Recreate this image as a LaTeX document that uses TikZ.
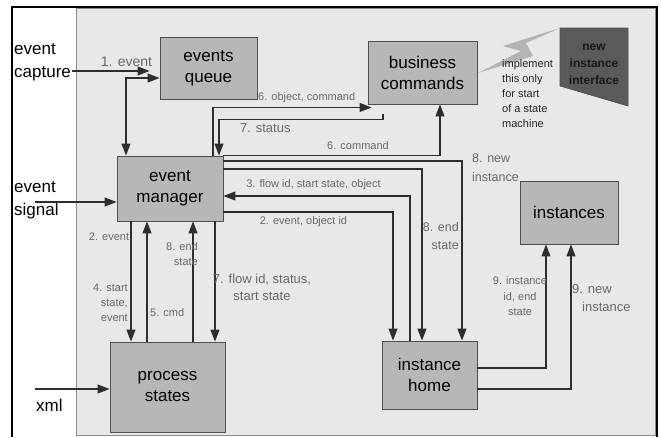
\documentclass[tikz,border=0pt]{standalone}
\usepackage{fontspec}
\setmainfont{Liberation Sans}
\usetikzlibrary{arrows.meta,calc}
\definecolor{panelfill}{HTML}{E8E8E8}
\definecolor{panelline}{HTML}{8A8A8A}
\definecolor{boxfill}{HTML}{B7B7B7}
\definecolor{boxline}{HTML}{505050}
\definecolor{linecol}{HTML}{2E2E2E}
\definecolor{lblcol}{HTML}{6A6A6A}
\definecolor{darkbox}{HTML}{5A5A5A}
\definecolor{boltfill}{HTML}{B4B4B4}

\begin{document}
\begin{tikzpicture}[x=1pt,y=-1pt,
  box/.style={draw=boxline, fill=boxfill, line width=0.9pt, inner sep=0pt,
              align=center, font=\fontsize{17}{21}\selectfont},
  conn/.style={draw=linecol, line width=1.1pt, -{Triangle[length=12pt,width=9pt]}},
  conn2/.style={draw=linecol, line width=1.1pt,
                {Triangle[length=12pt,width=9pt]}-{Triangle[length=12pt,width=9pt]}},
  lbl/.style={text=lblcol, inner sep=0pt, font=\fontsize{11}{15}\selectfont},
  side/.style={inner sep=0pt, align=left, font=\fontsize{17}{23.5}\selectfont}
]
\useasboundingbox (0,0) rectangle (661,437);
\fill[white] (0,0) rectangle (661,437);

% outer frame and shaded system area
\fill[panelfill] (76,8) rectangle (655,435);
\draw[panelline, line width=1pt] (76,8) rectangle (655,435);
\draw[black, line width=2pt] (12,437) -- (12,7) -- (657,7) -- (657,437);

% external inputs
\node[side, anchor=north west] (capt) at (14,43) {event\\capture};
\node[side, anchor=north west] (sig) at (14,181) {event\\signal};
\node[side, anchor=west] (xmlin) at (36,405) {xml};

% components
\node[box, minimum width=97pt, minimum height=62pt] (eq) at (208.5,68) {events\\queue};
\node[box, minimum width=109pt, minimum height=63pt] (bc) at (422.5,72.5) {business\\commands};
\node[box, minimum width=106pt, minimum height=65pt] (em) at (170,188.5) {event\\manager};
\node[box, minimum width=115pt, minimum height=90pt] (ps) at (167.5,387) {process\\states};
\node[box, minimum width=95pt, minimum height=68pt] (ih) at (429.5,375) {instance\\home};
\node[box, minimum width=98pt, minimum height=63pt] (inst) at (569,212.5) {instances};

% new instance interface and its callout
\fill[darkbox] (560,28) -- (628,28) -- (628,106) -- (560,86) -- cycle;
\draw[black!70, line width=0.6pt] (560,28) -- (628,28) -- (628,106) -- (560,86) -- cycle;
\node[inner sep=0pt, align=center, text=black!90,
      font=\bfseries\fontsize{12}{17}\selectfont] (nii) at (594,64) {new\\instance\\interface};
\fill[boltfill] (478,73) -- (521,51) -- (503,46) -- (560,28) -- (526,43) -- (533,56) -- cycle;
\node[inner sep=0pt, anchor=west, align=left, text=black!85,
      font=\fontsize{11}{15.2}\selectfont] (note) at (502,93.5)
      {implement\\this only\\for start\\of a state\\machine};

% inputs
\coordinate (capIn) at (72,71);
\coordinate (sigIn) at (35,202);
\coordinate (xmlIn) at (35,389);
\draw[conn, shorten >=10pt] (capIn) -- (eq.west |- capIn);
\node[lbl, font=\fontsize{14}{16}\selectfont] (l1) at (126.5,62) {1. event};
\draw[conn2] (eq.west |- 0,78) -| (em.north -| 126,0);
\draw[conn] (sigIn) -- (em.west |- sigIn);
\draw[conn] (xmlIn) -- (ps.west |- xmlIn);

% event manager <-> process states
\draw[conn] (em.south -| 131,0) -- (ps.north -| 131,0);
\draw[conn] (ps.north -| 147,0) -- (em.south -| 147,0);
\draw[conn] (ps.north -| 193,0) -- (em.south -| 193,0);
\draw[conn] (em.south -| 215,0) -- (ps.north -| 215,0);
\node[lbl] (l2a) at (109,237) {2. event};
\node[lbl, anchor=east, align=right] (l4) at (128,303) {4. start\\state,\\event};
\node[lbl, anchor=west] (l5) at (150,313) {5. cmd};
\node[lbl, anchor=east, align=right] (l8a) at (198,254.5) {8. end\\state};
\node[lbl, align=center, font=\fontsize{13}{17}\selectfont] (l7a) at (262,287.5)
      {7. flow id, status,\\ start state};

% event manager <-> business commands
\draw[conn] (em.north -| 213,0) |- ($(bc.south west)+(4,3)$);
\node[lbl, anchor=west] (l6a) at (258,98) {6. object, command};
\draw[conn] ($(bc.south)+(-39.5,10)$) -- ++(0,5) -| (em.north -| 219,0);
\node[lbl, anchor=west, font=\fontsize{13}{16}\selectfont] (l7b) at (240,128) {7. status};
\draw[conn] (em.north east) -| (bc.south -| 440,0);
\node[lbl] (l6b) at (358,146) {6. command};

% event manager <-> instance home
\draw[conn] (em.east |- 0,161) -| (ih.north -| 462,0);
\node[lbl, anchor=west, align=left, font=\fontsize{12.5}{19}\selectfont] (l8b) at (472,167.5)
      {8. new\\instance};
\draw[conn] (em.east |- 0,169) -| (ih.north -| 422,0);
\node[lbl, anchor=east, align=right, font=\fontsize{12.5}{18}\selectfont] (l8c) at (459,236)
      {8. end\\state};
\draw[conn] (ih.north -| 410,0) |- (em.east |- 0,196);
\node[lbl] (l3) at (313.5,185) {3. flow id, start state, object};
\draw[conn] (em.east |- 0,212) -| (ih.north -| 393,0);
\node[lbl] (l2b) at (303.5,222) {2. event, object id};

% instance home -> instances
\draw[conn] (ih.east |- 0,368) -| (inst.south -| 546,0);
\node[lbl, align=center, font=\fontsize{11}{15.5}\selectfont] (l9a) at (520,296.5)
      {9. instance\\id, end\\state};
\draw[conn] (ih.east |- 0,389) -| (inst.south -| 571,0);
\node[lbl, anchor=west, align=left, font=\fontsize{13}{18}\selectfont] (l9b) at (572,298)
      {9. new\\\hspace*{10pt}instance};
\end{tikzpicture}
\end{document}
